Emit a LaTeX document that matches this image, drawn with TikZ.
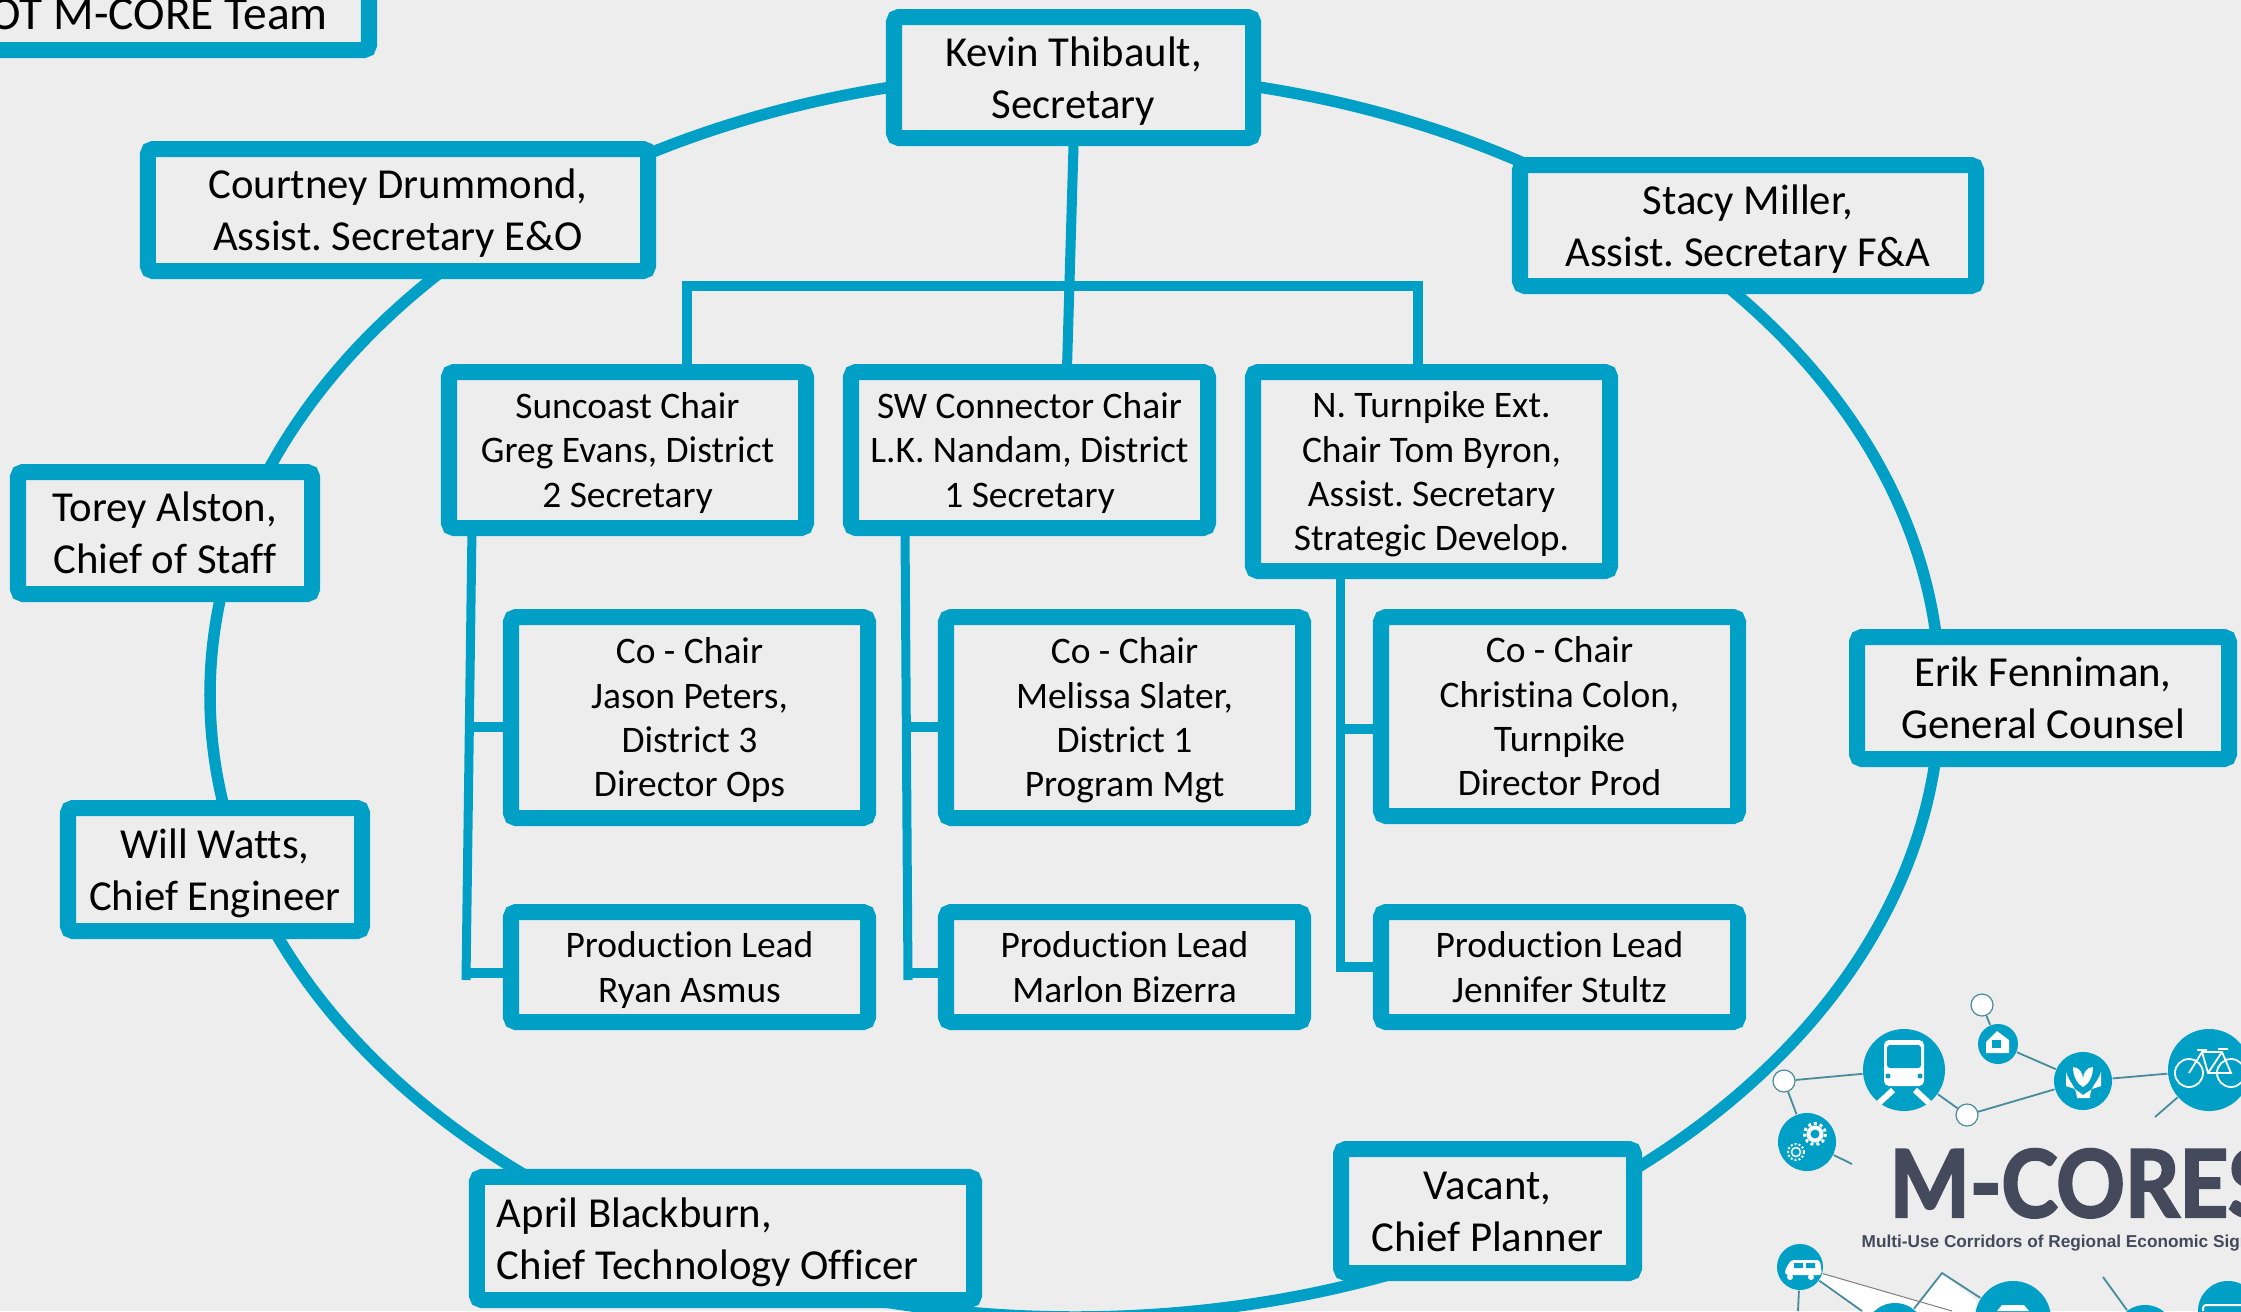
\documentclass[tikz,border=0pt]{standalone}
\usepackage{fontspec}
\setmainfont{Carlito}[Ligatures=NoCommon]
\newfontfamily\logofont[FakeStretch=0.91,FakeBold=2.5]{Lato}
\newfontfamily\tagfont{Liberation Sans}
\usetikzlibrary{calc}
\definecolor{teamblue}{RGB}{0,160,198}
\definecolor{paper}{RGB}{237,237,237}
\definecolor{logoline}{RGB}{70,140,155}
\definecolor{logoink}{RGB}{68,74,92}
\newcommand{\topstrut}{\rule{0pt}{1.02em}}
\newcommand{\botstrut}{\rule[-0.33em]{0pt}{0.33em}}
\tikzset{
  orgbox/.style = {
    draw=teamblue,
    fill=paper,
    line width=0.16cm,
    rounded corners=0.05cm,
    inner sep=0pt,
    align=center
  },
  bigtext/.style = {font=\frenchspacing\fontsize{12.15}{14.7}\selectfont},
  smalltext/.style = {font=\frenchspacing\fontsize{10.65}{12.6}\selectfont},
  ringline/.style = {draw=teamblue,line width=0.115cm},
  connline/.style = {draw=teamblue,line width=0.1cm},
  railline/.style = {draw=teamblue,line width=0.09cm},
  hub/.style = {circle,fill=teamblue,inner sep=0pt},
  dotnode/.style = {circle,draw=logoline,fill=white,line width=0.012cm,inner sep=0pt,minimum size=0.22cm},
  thinline/.style = {draw=logoline,line width=0.018cm},
  iconline/.style = {draw=white,line width=0.018cm}
}
\begin{document}
\begin{tikzpicture}[x=0.01cm,y=-0.01cm]
  \useasboundingbox (0,0) rectangle (2241,1311);
  \clip (0,0) rectangle (2241,1311);
  \fill[paper] (0,0) rectangle (2241,1311);
  % ring
  \draw[ringline] (1075,695) ellipse [x radius=865, y radius=622];
  % boxes of the ring and the columns
  \foreach \nam/\xa/\ya/\xb/\yb/\stl/\txt in {%
    kevin/886/9/1261/146/bigtext/{Kevin Thibault,\\Secretary},
    courtney/140/141/656/279/bigtext/{Courtney Drummond,\\Assist. Secretary E\&O},
    stacy/1512/157/1984/294/bigtext/{Stacy Miller,\\Assist. Secretary F\&A},
    torey/10/464/320/602/bigtext/{Torey Alston,\\Chief of Staff},
    will/60/800/370/939/bigtext/{Will Watts,\\Chief Engineer},
    erik/1849/629/2237/767/bigtext/{Erik Fenniman,\\General Counsel},
    vacant/1333/1141/1642/1281/bigtext/{Vacant,\\Chief Planner},
    suncoast/441/364/814/536/smalltext/{Suncoast Chair\\Greg Evans, District\\2 Secretary},
    swconn/843/364/1216/536/smalltext/{SW Connector Chair\\L.K. Nandam, District\\1 Secretary},
    nturn/1245/364/1618/579/smalltext/{N. Turnpike Ext.\\Chair Tom Byron,\\Assist. Secretary\\Strategic Develop.},
    coA/503/609/876/826/smalltext/{Co - Chair\\Jason Peters,\\District 3\\Director Ops},
    coB/938/609/1311/826/smalltext/{Co - Chair\\Melissa Slater,\\District 1\\Program Mgt},
    coC/1373/609/1746/824/smalltext/{Co - Chair\\Christina Colon,\\Turnpike\\Director Prod},
    prodA/503/904/876/1030/smalltext/{Production Lead\\Ryan Asmus},
    prodB/938/904/1311/1030/smalltext/{Production Lead\\Marlon Bizerra},
    prodC/1373/904/1746/1030/smalltext/{Production Lead\\Jennifer Stultz}%
  } {%
    \pgfmathsetmacro{\bw}{(\xb-\xa-16)*0.01}
    \pgfmathsetmacro{\bh}{(\yb-\ya-16)*0.01}
    \node[orgbox,\stl,minimum width=\bw cm,minimum height=\bh cm] (\nam) at ({(\xa+\xb)/2},{(\ya+\yb)/2}) {\topstrut\txt\botstrut};
  }
  \node[orgbox,bigtext,align=flush left,text width=4.57cm,inner xsep=0.2cm,minimum height=1.23cm] (april) at (725.5,1238.5) {\topstrut April Blackburn,\\Chief Technology Officer\botstrut};
  \node[orgbox,font=\frenchspacing\fontsize{13.5}{15}\selectfont,anchor=east,inner xsep=0.41cm,minimum height=0.74cm] (team) at (377,13) {\topstrut FDOT M-CORE Team\botstrut};
  % bus under the secretary
  \coordinate (busL) at (687,286);
  \coordinate (busR) at (1418,286);
  \coordinate (swtop) at (1067,368);
  \draw[connline] (kevin.south) -- (swtop);
  \draw[connline,line cap=square] (suncoast.north -| busL) -- (busL) -- (busR) -- (busR |- nturn.north);
  % rails of the columns
  \foreach \col/\xt/\yt/\xe/\ye/\ym/\yl in {%
    A/472/528/466/980/727/973,
    B/905/528/908/980/727/973,
    C/1340/570/1340/972/729/967%
  } {%
    \coordinate (top\col) at (\xt,\yt);
    \coordinate (end\col) at (\xe,\ye);
    \coordinate (mid\col) at (\xe,\ym);
    \coordinate (low\col) at (\xe,\yl);
    \draw[railline] (top\col) -- (end\col);
    \draw[connline] (mid\col) -- (mid\col -| co\col.west);
    \draw[connline] (low\col) -- (low\col -| prod\col.west);
  }
  % logo
  \fill[white] (1822,1274) -- (1952,1311) -- (1914,1311) -- (1942,1273) -- (1976,1300) -- (1976,1311) -- (1862,1311) -- (1815,1280) -- cycle;
  \node[dotnode] (dotA) at (1784,1081) {};
  \node[dotnode] (dotB) at (1967,1115) {};
  \node[dotnode] (dotC) at (1982,1005) {};
  \node[hub,minimum size=0.82cm] (train) at (1904,1070) {};
  \node[hub,minimum size=0.58cm] (gears) at (1807,1142) {};
  \node[hub,minimum size=0.40cm] (house) at (1998,1044) {};
  \node[hub,minimum size=0.58cm] (hands) at (2083,1081) {};
  \node[hub,minimum size=0.82cm] (bike) at (2209,1070) {};
  \node[hub,minimum size=0.46cm] (van) at (1800,1267) {};
  \node[hub,minimum size=0.76cm] (roof) at (2013,1319) {};
  \node[hub,minimum size=0.60cm] (hubE) at (1895,1333) {};
  \node[hub,minimum size=0.60cm] (hubF) at (2145,1335) {};
  \node[hub,minimum size=0.60cm] (bus) at (2228,1311) {};
  \coordinate (freeA) at (1852,1164);
  \coordinate (freeB) at (2155,1117);
  \coordinate (freeC) at (1798,1311);
  \coordinate (freeD) at (1862,1311);
  \coordinate (freeE) at (1942,1273);
  \coordinate (freeF) at (2103,1277);
  \draw[thinline] (dotA) -- (train);
  \draw[thinline] (dotA) -- (gears);
  \draw[thinline] (train) -- (dotB);
  \draw[thinline] (dotB) -- (hands);
  \draw[thinline] (house) -- (hands);
  \draw[thinline] (house) -- (dotC);
  \draw[thinline] (hands) -- (bike);
  \draw[thinline] (bike) -- (freeB);
  \draw[thinline] (gears) -- (freeA);
  \draw[thinline] (van) -- (freeC);
  \draw[thinline] (van) -- (freeD);
  \draw[thinline] (hubE) -- (freeE) -- (roof);
  \draw[thinline] (hubF) -- (freeF);
  \draw[gray,line width=0.01cm] (van) -- (1952,1311);
  % icons
  \fill[white,rounded corners=0.05cm] (1884,1040) rectangle (1924,1086);
  \fill[teamblue,rounded corners=0.03cm] (1887,1045) rectangle (1921,1068);
  \fill[teamblue] (1888,1076) circle (2.5) (1920,1076) circle (2.5);
  \draw[white,line width=0.06cm] (1879,1103) -- (1893,1090) (1929,1103) -- (1915,1090);
  \fill[white] (1986,1042) -- (1997,1031) -- (2009,1040) -- (2009,1053) -- (1986,1053) -- cycle;
  \fill[teamblue] (1992,1040) rectangle (2001,1048);
  \fill[white] (2066,1072) .. controls (2070,1084) and (2076,1086) .. (2077,1098) -- (2090,1098) .. controls (2090,1086) and (2097,1084) .. (2101,1072) -- (2101,1086) -- (2092,1089) -- (2083,1095) -- (2075,1089) -- (2066,1086) -- cycle;
  \fill[white] (2073,1067) .. controls (2079,1067) and (2083,1073) .. (2083,1079) .. controls (2083,1073) and (2087,1067) .. (2093,1067) .. controls (2093,1076) and (2089,1084) .. (2083,1087) .. controls (2077,1084) and (2073,1076) .. (2073,1067) -- cycle;
  \draw[iconline] (2189,1073) circle (14) (2231,1073) circle (14);
  \draw[iconline] (2189,1073) -- (2202,1052) -- (2222,1052) -- (2231,1073) -- (2208,1073) -- (2202,1052) (2208,1073) -- (2222,1052) (2197,1050) -- (2207,1050) (2218,1049) -- (2228,1049);
  \draw[white,line width=0.04cm] (1815,1134) circle (6.5);
  \draw[white,line width=0.03cm,dash pattern=on 0.03cm off 0.03cm] (1815,1134) circle (10.5);
  \draw[white,line width=0.015cm] (1796,1152) circle (4.5);
  \draw[white,line width=0.02cm,dash pattern=on 0.02cm off 0.02cm] (1796,1152) circle (8);
  \fill[white,rounded corners=0.03cm] (1785,1270) -- (1791,1260) -- (1820,1260) -- (1822,1275) -- (1785,1275) -- cycle;
  \fill[teamblue] (1794,1263) rectangle (1803,1268) (1806,1263) rectangle (1815,1268);
  \fill[white] (1790,1277) circle (3) (1811,1277) circle (3);
  \fill[white] (1997,1311) -- (2002,1305) -- (2024,1305) -- (2029,1311) -- cycle;
  \draw[white,line width=0.02cm,rounded corners=0.03cm] (2203,1311) -- (2203,1305) -- (2241,1305);
  % logo text
  \node[anchor=base west,inner sep=0pt,text=logoink] (logoname) at (1889,1217) {\logofont\bfseries\fontsize{26.5}{30}\selectfont M-CORES};
  \node[anchor=base west,inner sep=0pt,text=logoink] (logotag) at (1861,1247) {\tagfont\bfseries\fontsize{4.9}{6}\selectfont Multi-Use Corridors of Regional Economic Significance};
\end{tikzpicture}
\end{document}
